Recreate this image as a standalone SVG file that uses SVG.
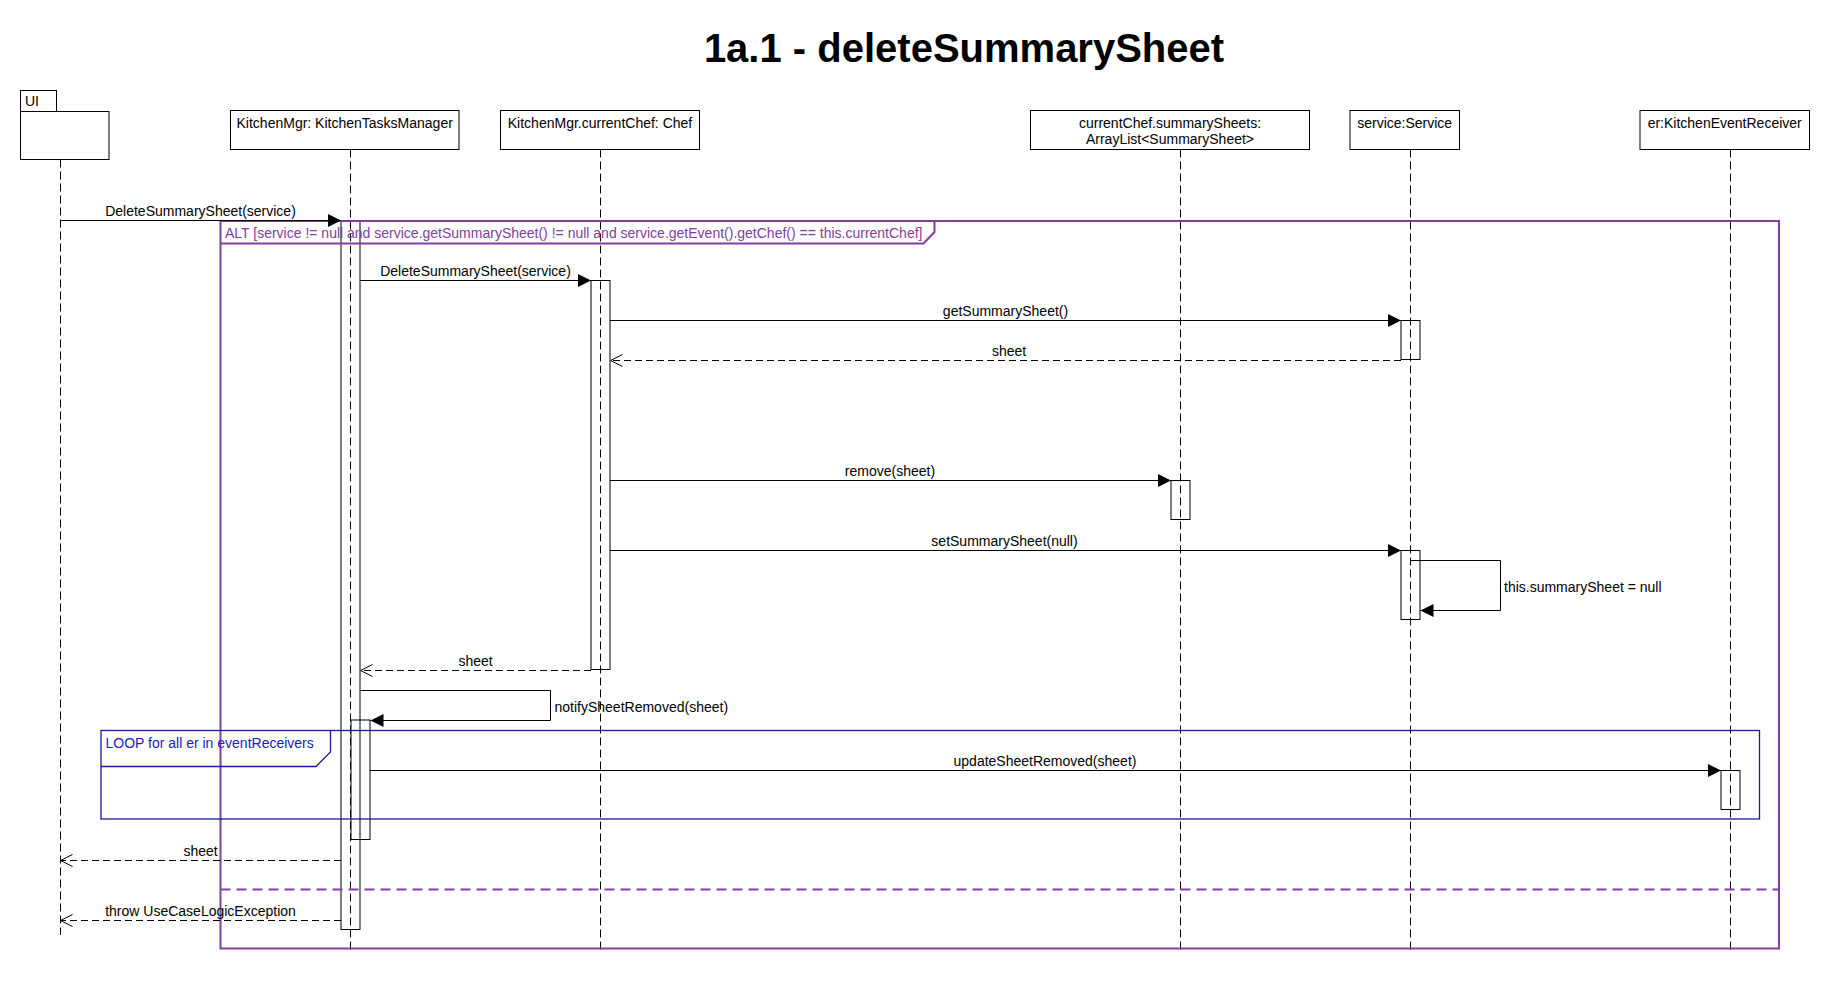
<svg xmlns="http://www.w3.org/2000/svg" width="1830" height="990" viewBox="0 0 1830 990">
<style>
.t{font-family:"Liberation Sans",Arial,sans-serif;font-size:14px;fill:#000}
.c{text-anchor:middle}
.title{font-family:"Liberation Sans",Arial,sans-serif;font-size:40px;font-weight:bold;fill:#000;text-anchor:middle}
.box{fill:#fff;stroke:#000;stroke-width:1}
.life{stroke:#000;stroke-width:1;stroke-dasharray:8 4;fill:none}
.act{fill:none;stroke:#000;stroke-width:1}
.msg{stroke:#000;stroke-width:1;fill:none;marker-end:url(#fa)}
.ret{stroke:#000;stroke-width:1;fill:none;stroke-dasharray:7 4;marker-end:url(#oa)}
.alt{stroke:#80409c;stroke-width:2;fill:none}
.altsep{stroke:#80409c;stroke-width:2;fill:none;stroke-dasharray:10 6}
.altt{fill:#80409c}
.loop{stroke:#1a1a9a;stroke-width:1.3;fill:none}
.loopt{fill:#2020c0}
</style>
<defs>
<marker id="fa" markerUnits="userSpaceOnUse" markerWidth="14" markerHeight="14" refX="13" refY="6.5" orient="auto">
<path d="M0,0 L13,6.5 L0,13 z" fill="#000"/>
</marker>
<marker id="oa" markerUnits="userSpaceOnUse" markerWidth="14" markerHeight="14" refX="12.5" refY="6.5" orient="auto">
<path d="M0.5,0.5 L12.5,6.5 L0.5,12.5" fill="none" stroke="#000" stroke-width="1"/>
</marker>
</defs>
<rect x="0" y="0" width="1830" height="990" fill="#fff"/>
<text class="title" x="964" y="62">1a.1 - deleteSummarySheet</text>

<g id="lifeline-ui">
<rect class="box" x="20.5" y="90.5" width="36" height="21"/>
<text class="t" x="25" y="106">UI</text>
<rect class="box" x="20.5" y="111.5" width="88.5" height="48"/>
<line class="life" x1="60.5" y1="159.5" x2="60.5" y2="935"/>
</g>

<g id="lifeline-kitchenmgr">
<rect class="box" x="230.5" y="110.5" width="228.5" height="39"/>
<text class="t c" x="344.7" y="127.5">KitchenMgr: KitchenTasksManager</text>
<line class="life" x1="350.5" y1="149.5" x2="350.5" y2="950"/>
<rect class="act" x="341" y="220.5" width="19" height="709"/>
<rect class="act" x="351" y="720" width="19" height="119.5"/>
</g>

<g id="lifeline-chef">
<rect class="box" x="500.5" y="110.5" width="199" height="39"/>
<text class="t c" x="600" y="127.5">KitchenMgr.currentChef: Chef</text>
<line class="life" x1="600.5" y1="149.5" x2="600.5" y2="950"/>
<rect class="act" x="591" y="280.5" width="19" height="389"/>
</g>

<g id="lifeline-summarysheets">
<rect class="box" x="1030.5" y="110.5" width="279" height="39"/>
<text class="t c" x="1170" y="127.5">currentChef.summarySheets:</text>
<text class="t c" x="1170" y="143.5">ArrayList&lt;SummarySheet&gt;</text>
<line class="life" x1="1180.5" y1="149.5" x2="1180.5" y2="950"/>
<rect class="act" x="1171" y="480.5" width="19" height="39"/>
</g>

<g id="lifeline-service">
<rect class="box" x="1350" y="110.5" width="109.5" height="39"/>
<text class="t c" x="1404.7" y="127.5">service:Service</text>
<line class="life" x1="1410.5" y1="149.5" x2="1410.5" y2="950"/>
<rect class="act" x="1401" y="320.5" width="19" height="39"/>
<rect class="act" x="1401" y="550.5" width="19" height="69"/>
</g>

<g id="lifeline-er">
<rect class="box" x="1640" y="110.5" width="169.5" height="39"/>
<text class="t c" x="1724.7" y="127.5">er:KitchenEventReceiver</text>
<line class="life" x1="1730.5" y1="149.5" x2="1730.5" y2="950"/>
<rect class="act" x="1721" y="770.5" width="19" height="39"/>
</g>

<g id="fragment-alt">
<rect class="alt" x="220.5" y="221" width="1558.5" height="727.5"/>
<path class="alt" d="M220.5,243.5 L923.5,243.5 L934.5,232 L934.5,221"/>
<text class="t altt" x="225" y="238">ALT [service != null and service.getSummarySheet() != null and service.getEvent().getChef() == this.currentChef]</text>
<line class="altsep" x1="220.5" y1="889.5" x2="1779" y2="889.5"/>
</g>

<g id="fragment-loop">
<rect class="loop" x="101" y="730.5" width="1658.5" height="88.5"/>
<path class="loop" d="M101,766.5 L316,766.5 L330.5,752 L330.5,730.5"/>
<text class="t loopt" x="105.5" y="747.5">LOOP for all er in eventReceivers</text>
</g>

<g id="connectors">
<line class="msg" x1="60.5" y1="220.5" x2="341" y2="220.5"/>
<text class="t c" x="200.5" y="216">DeleteSummarySheet(service)</text>

<line class="msg" x1="360" y1="280.5" x2="591" y2="280.5"/>
<text class="t c" x="475.5" y="276">DeleteSummarySheet(service)</text>

<line class="msg" x1="610" y1="320.5" x2="1401" y2="320.5"/>
<text class="t c" x="1005.5" y="316">getSummarySheet()</text>

<line class="ret" x1="1401" y1="360.5" x2="610.5" y2="360.5"/>
<text class="t c" x="1009" y="356">sheet</text>

<line class="msg" x1="610" y1="480.5" x2="1171" y2="480.5"/>
<text class="t c" x="890" y="476">remove(sheet)</text>

<line class="msg" x1="610" y1="550.5" x2="1401" y2="550.5"/>
<text class="t c" x="1004.5" y="546">setSummarySheet(null)</text>

<path class="msg" d="M1410.5,560.5 L1500.5,560.5 L1500.5,610.5 L1420.5,610.5"/>
<text class="t" x="1504" y="592">this.summarySheet = null</text>

<line class="ret" x1="591" y1="670.5" x2="360.5" y2="670.5"/>
<text class="t c" x="475.5" y="666">sheet</text>

<path class="msg" d="M360,690.5 L550.5,690.5 L550.5,720.5 L370.5,720.5"/>
<text class="t" x="554.5" y="712">notifySheetRemoved(sheet)</text>

<line class="msg" x1="370" y1="770.5" x2="1721" y2="770.5"/>
<text class="t c" x="1045" y="766">updateSheetRemoved(sheet)</text>

<line class="ret" x1="341" y1="860.5" x2="60.5" y2="860.5"/>
<text class="t c" x="200.5" y="856">sheet</text>

<line class="ret" x1="341" y1="920.5" x2="60.5" y2="920.5"/>
<text class="t c" x="200.5" y="916">throw UseCaseLogicException</text>
</g>
</svg>
